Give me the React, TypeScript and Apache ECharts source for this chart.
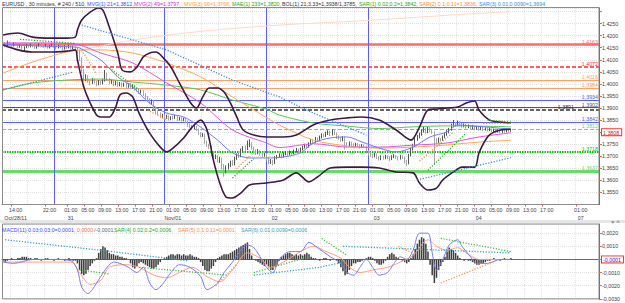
import React, { useEffect, useRef } from "react";
import * as echarts from "echarts";

// ---------------- axis categories / labels ----------------
const SLOT_COUNT = 281;
const slotNames = Array.from({ length: SLOT_COUNT }, (_, i) => String(i));
const timeLabels = [
  "14:00", "18:00", "22:00",
  "01:00", "05:00", "09:00", "13:00", "17:00", "21:00",
  "01:00", "05:00", "09:00", "13:00", "17:00", "21:00",
  "01:00", "05:00", "09:00", "13:00", "17:00", "21:00",
  "01:00", "05:00", "09:00", "13:00", "17:00", "21:00",
  "01:00", "05:00", "09:00", "13:00", "17:00", "21:00",
  "01:00",
];
const timeLabelSlots = [
  4, 12, 20, 30, 38, 46, 54, 62, 70, 78, 86, 94, 102, 110, 118, 126, 134, 142, 150, 158, 166,
  174, 182, 190, 198, 206, 214, 222, 230, 238, 246, 254, 262, 270,
];
const dateLabels = ["Oct/28/11", "31", "Nov/01", "02", "03", "04", "07"];
const dateLabelSlots = [4, 30, 78, 126, 174, 222, 270];
const daySeparatorSlots = ["24", "76", "124", "172"];

// ---------------- price bars [open, close, low, high] ----------------
const bars = [
  [1.4165,1.4168,1.4158,1.4175],[1.4168,1.4160,1.4155,1.4172],[1.4160,1.4172,1.4157,1.4180],[1.4172,1.4165,1.4160,1.4176],[1.4165,1.4158,1.4150,1.4168],
  [1.4158,1.4170,1.4155,1.4174],[1.4170,1.4162,1.4158,1.4173],[1.4162,1.4155,1.4148,1.4165],[1.4155,1.4160,1.4150,1.4163],[1.4160,1.4140,1.4132,1.4162],
  [1.4140,1.4152,1.4136,1.4156],[1.4152,1.4160,1.4148,1.4166],[1.4160,1.4155,1.4150,1.4164],[1.4155,1.4163,1.4152,1.4168],[1.4163,1.4158,1.4153,1.4167],
  [1.4158,1.4150,1.4145,1.4160],[1.4150,1.4157,1.4146,1.4161],[1.4157,1.4165,1.4154,1.4170],[1.4165,1.4160,1.4155,1.4168],[1.4160,1.4155,1.4150,1.4163],
  [1.4155,1.4162,1.4152,1.4166],[1.4162,1.4150,1.4146,1.4164],[1.4150,1.4158,1.4147,1.4161],[1.4158,1.4164,1.4155,1.4168],[1.4164,1.4156,1.4150,1.4166],
  [1.4156,1.4150,1.4143,1.4159],[1.4150,1.4158,1.4147,1.4162],[1.4158,1.4152,1.4148,1.4161],[1.4152,1.4145,1.4140,1.4155],[1.4145,1.4155,1.4142,1.4160],
  [1.4155,1.4150,1.4145,1.4158],[1.4150,1.4157,1.4147,1.4162],[1.4157,1.4148,1.4143,1.4160],[1.4148,1.4152,1.4144,1.4158],[1.4152,1.4145,1.4140,1.4155],
  [1.4145,1.4138,1.4128,1.4150],[1.4138,1.4105,1.4095,1.4142],[1.4105,1.4055,1.4045,1.4110],[1.4055,1.4020,1.4010,1.4062],[1.4020,1.4030,1.4012,1.4040],
  [1.4030,1.4012,1.4005,1.4036],[1.4012,1.4005,1.3995,1.4020],[1.4005,1.4018,1.4000,1.4025],[1.4018,1.4008,1.4002,1.4022],[1.4008,1.3998,1.3990,1.4012],
  [1.3998,1.4010,1.3994,1.4016],[1.4010,1.4002,1.3996,1.4014],[1.4002,1.4015,1.3998,1.4022],[1.4015,1.4040,1.4010,1.4058],[1.4040,1.4020,1.4012,1.4045],
  [1.4020,1.4005,1.3998,1.4025],[1.4005,1.4012,1.4000,1.4018],[1.4012,1.3998,1.3990,1.4015],[1.3998,1.4006,1.3994,1.4012],[1.4006,1.3995,1.3988,1.4010],
  [1.3995,1.4003,1.3990,1.4008],[1.4003,1.3992,1.3985,1.4006],[1.3992,1.4000,1.3988,1.4005],[1.4000,1.3988,1.3980,1.4004],[1.3988,1.3996,1.3984,1.4002],
  [1.3996,1.3985,1.3978,1.4000],[1.3985,1.3992,1.3980,1.3998],[1.3992,1.3980,1.3972,1.3995],[1.3980,1.3975,1.3968,1.3986],[1.3975,1.3965,1.3958,1.3980],
  [1.3965,1.3970,1.3960,1.3976],[1.3970,1.3958,1.3950,1.3974],[1.3958,1.3945,1.3938,1.3962],[1.3945,1.3935,1.3928,1.3950],[1.3935,1.3925,1.3918,1.3940],
  [1.3925,1.3930,1.3915,1.3936],[1.3930,1.3900,1.3890,1.3934],[1.3900,1.3885,1.3875,1.3905],[1.3885,1.3878,1.3870,1.3890],[1.3878,1.3865,1.3858,1.3882],
  [1.3865,1.3870,1.3860,1.3876],[1.3870,1.3860,1.3852,1.3874],[1.3860,1.3868,1.3855,1.3872],[1.3868,1.3855,1.3848,1.3870],[1.3855,1.3862,1.3850,1.3866],
  [1.3862,1.3858,1.3852,1.3868],[1.3858,1.3865,1.3854,1.3872],[1.3865,1.3852,1.3846,1.3868],[1.3852,1.3858,1.3848,1.3864],[1.3858,1.3850,1.3844,1.3862],
  [1.3850,1.3855,1.3845,1.3860],[1.3855,1.3845,1.3838,1.3858],[1.3845,1.3830,1.3822,1.3848],[1.3830,1.3825,1.3818,1.3836],[1.3825,1.3818,1.3810,1.3830],
  [1.3818,1.3822,1.3812,1.3828],[1.3822,1.3812,1.3805,1.3826],[1.3812,1.3795,1.3788,1.3815],[1.3795,1.3785,1.3778,1.3800],[1.3785,1.3790,1.3780,1.3796],
  [1.3790,1.3760,1.3752,1.3794],[1.3760,1.3745,1.3738,1.3765],[1.3745,1.3740,1.3730,1.3752],[1.3740,1.3710,1.3700,1.3745],[1.3710,1.3695,1.3685,1.3715],
  [1.3695,1.3700,1.3688,1.3708],[1.3700,1.3685,1.3675,1.3705],[1.3685,1.3690,1.3672,1.3698],[1.3690,1.3660,1.3645,1.3694],[1.3660,1.3650,1.3615,1.3668],
  [1.3650,1.3655,1.3630,1.3662],[1.3655,1.3665,1.3645,1.3672],[1.3665,1.3675,1.3655,1.3682],[1.3675,1.3668,1.3660,1.3685],[1.3668,1.3690,1.3662,1.3698],
  [1.3690,1.3705,1.3685,1.3712],[1.3705,1.3700,1.3692,1.3715],[1.3700,1.3725,1.3696,1.3732],[1.3725,1.3735,1.3718,1.3742],[1.3735,1.3730,1.3722,1.3745],
  [1.3730,1.3748,1.3726,1.3765],[1.3748,1.3752,1.3738,1.3770],[1.3752,1.3735,1.3728,1.3758],[1.3735,1.3720,1.3712,1.3740],[1.3720,1.3712,1.3705,1.3728],
  [1.3712,1.3722,1.3708,1.3730],[1.3722,1.3710,1.3702,1.3726],[1.3710,1.3702,1.3695,1.3716],[1.3702,1.3708,1.3698,1.3714],[1.3708,1.3690,1.3682,1.3712],
  [1.3690,1.3675,1.3665,1.3695],[1.3675,1.3680,1.3668,1.3688],[1.3680,1.3672,1.3662,1.3686],[1.3672,1.3695,1.3668,1.3700],[1.3695,1.3700,1.3688,1.3706],
  [1.3700,1.3705,1.3694,1.3712],[1.3705,1.3698,1.3690,1.3710],[1.3698,1.3710,1.3694,1.3716],[1.3710,1.3715,1.3704,1.3722],[1.3715,1.3708,1.3700,1.3720],
  [1.3708,1.3718,1.3704,1.3724],[1.3718,1.3712,1.3706,1.3722],[1.3712,1.3722,1.3708,1.3728],[1.3722,1.3728,1.3715,1.3735],[1.3728,1.3720,1.3714,1.3732],
  [1.3720,1.3730,1.3716,1.3736],[1.3730,1.3738,1.3724,1.3744],[1.3738,1.3745,1.3732,1.3752],[1.3745,1.3740,1.3734,1.3750],[1.3740,1.3752,1.3736,1.3758],
  [1.3752,1.3765,1.3748,1.3772],[1.3765,1.3760,1.3752,1.3770],[1.3760,1.3772,1.3756,1.3780],[1.3772,1.3768,1.3760,1.3778],[1.3768,1.3780,1.3764,1.3786],
  [1.3780,1.3788,1.3774,1.3795],[1.3788,1.3785,1.3778,1.3794],[1.3785,1.3795,1.3780,1.3802],[1.3795,1.3800,1.3788,1.3808],[1.3800,1.3790,1.3784,1.3806],
  [1.3790,1.3805,1.3786,1.3812],[1.3805,1.3795,1.3788,1.3810],[1.3795,1.3780,1.3772,1.3798],[1.3780,1.3775,1.3768,1.3786],[1.3775,1.3768,1.3760,1.3780],
  [1.3768,1.3778,1.3762,1.3784],[1.3778,1.3750,1.3728,1.3782],[1.3750,1.3745,1.3738,1.3758],[1.3745,1.3755,1.3740,1.3762],[1.3755,1.3748,1.3742,1.3760],
  [1.3748,1.3742,1.3736,1.3754],[1.3742,1.3750,1.3738,1.3756],[1.3750,1.3745,1.3740,1.3755],[1.3745,1.3738,1.3732,1.3750],[1.3738,1.3745,1.3734,1.3750],
  [1.3745,1.3740,1.3734,1.3748],[1.3740,1.3720,1.3712,1.3744],[1.3720,1.3710,1.3702,1.3725],[1.3710,1.3705,1.3698,1.3716],[1.3705,1.3700,1.3692,1.3710],
  [1.3700,1.3708,1.3695,1.3714],[1.3708,1.3695,1.3688,1.3712],[1.3695,1.3690,1.3682,1.3700],[1.3690,1.3698,1.3684,1.3704],[1.3698,1.3692,1.3686,1.3702],
  [1.3692,1.3700,1.3688,1.3706],[1.3700,1.3695,1.3688,1.3704],[1.3695,1.3688,1.3680,1.3700],[1.3688,1.3698,1.3684,1.3704],[1.3698,1.3702,1.3692,1.3708],
  [1.3702,1.3695,1.3688,1.3706],[1.3695,1.3690,1.3682,1.3700],[1.3690,1.3700,1.3686,1.3706],[1.3700,1.3695,1.3688,1.3704],[1.3695,1.3680,1.3670,1.3698],
  [1.3680,1.3670,1.3660,1.3685],[1.3670,1.3705,1.3666,1.3710],[1.3705,1.3730,1.3700,1.3736],[1.3730,1.3745,1.3724,1.3752],[1.3745,1.3770,1.3740,1.3778],
  [1.3770,1.3780,1.3764,1.3788],[1.3780,1.3790,1.3774,1.3798],[1.3790,1.3805,1.3785,1.3812],[1.3805,1.3812,1.3798,1.3825],[1.3812,1.3800,1.3794,1.3818],
  [1.3800,1.3815,1.3796,1.3822],[1.3815,1.3808,1.3800,1.3820],[1.3808,1.3800,1.3792,1.3812],[1.3800,1.3765,1.3665,1.3804],[1.3765,1.3760,1.3752,1.3775],
  [1.3760,1.3770,1.3755,1.3778],[1.3770,1.3768,1.3760,1.3776],[1.3768,1.3780,1.3764,1.3786],[1.3780,1.3790,1.3775,1.3796],[1.3790,1.3800,1.3785,1.3808],
  [1.3800,1.3810,1.3795,1.3818],[1.3810,1.3828,1.3806,1.3835],[1.3828,1.3835,1.3820,1.3850],[1.3835,1.3830,1.3822,1.3842],[1.3830,1.3838,1.3825,1.3848],
  [1.3838,1.3832,1.3824,1.3846],[1.3832,1.3825,1.3818,1.3838],[1.3825,1.3830,1.3820,1.3836],[1.3830,1.3820,1.3814,1.3834],[1.3820,1.3826,1.3816,1.3832],
  [1.3826,1.3818,1.3812,1.3830],[1.3818,1.3822,1.3812,1.3830],[1.3822,1.3815,1.3808,1.3826],[1.3815,1.3820,1.3810,1.3826],[1.3820,1.3812,1.3806,1.3824],
  [1.3812,1.3818,1.3808,1.3824],[1.3818,1.3810,1.3804,1.3822],[1.3810,1.3815,1.3806,1.3820],[1.3815,1.3808,1.3802,1.3820],[1.3808,1.3812,1.3804,1.3818],
  [1.3812,1.3805,1.3800,1.3816],[1.3805,1.3810,1.3800,1.3815],[1.3810,1.3802,1.3796,1.3814],[1.3802,1.3808,1.3798,1.3812],[1.3808,1.3800,1.3795,1.3812],
  [1.3800,1.3806,1.3796,1.3810],[1.3806,1.3803,1.3798,1.3810],[1.3803,1.3810,1.3800,1.3815],[1.3810,1.3805,1.3800,1.3814],[1.3805,1.3808,1.3802,1.3812],
];

// ---------------- indicator lines [slot, value] ----------------
const bbUpper = [[0,1.4203],[7,1.4211],[14,1.4194],[22,1.4190],[30,1.4190],[34,1.4194],[35,1.4223],[37,1.4265],[41,1.4298],[45,1.4315],[47,1.4306],[50,1.4236],[54,1.4128],[56,1.4058],[60,1.4050],[63,1.4070],[66,1.4112],[69,1.4128],[72,1.4132],[75,1.4112],[79,1.4070],[83,1.4004],[88,1.3925],[91,1.3900],[94,1.3946],[97,1.3983],[101,1.3983],[104,1.3966],[107,1.3921],[110,1.3863],[113,1.3809],[118,1.3788],[124,1.3780],[132,1.3780],[138,1.3788],[146,1.3830],[154,1.3850],[162,1.3859],[169,1.3863],[177,1.3850],[185,1.3809],[192,1.3767],[196,1.3821],[200,1.3892],[204,1.3896],[209,1.3900],[214,1.3904],[218,1.3921],[222,1.3929],[224,1.3892],[229,1.3850],[234,1.3842],[239,1.3838]];
const bbLower = [[0,1.4161],[7,1.4141],[14,1.4132],[22,1.4132],[30,1.4136],[34,1.4141],[35,1.4099],[38,1.3987],[41,1.3921],[44,1.3871],[46,1.3863],[50,1.3863],[53,1.3904],[55,1.3954],[58,1.3962],[61,1.3946],[64,1.3879],[69,1.3796],[74,1.3738],[77,1.3718],[80,1.3734],[85,1.3776],[89,1.3821],[93,1.3850],[96,1.3809],[99,1.3684],[102,1.3589],[105,1.3531],[108,1.3527],[112,1.3548],[116,1.3581],[124,1.3589],[132,1.3602],[138,1.3631],[144,1.3594],[148,1.3614],[154,1.3651],[162,1.3655],[169,1.3655],[177,1.3651],[185,1.3635],[193,1.3631],[196,1.3589],[200,1.3560],[204,1.3568],[207,1.3602],[212,1.3635],[216,1.3655],[222,1.3655],[224,1.3714],[228,1.3780],[231,1.3800],[235,1.3810],[239,1.3812]];
const mvg21 = [[0,1.4165],[17,1.4157],[34,1.4153],[36,1.4149],[46,1.4099],[54,1.4029],[61,1.3987],[69,1.3920],[77,1.3879],[85,1.3863],[93,1.3821],[101,1.3767],[108,1.3714],[116,1.3693],[124,1.3693],[132,1.3697],[140,1.3714],[146,1.3755],[154,1.3776],[162,1.3780],[169,1.3759],[177,1.3734],[185,1.3718],[193,1.3738],[201,1.3780],[209,1.3801],[214,1.3830],[221,1.3825],[228,1.3821],[239,1.3812]];
const mvg49 = [[0,1.4170],[17,1.4170],[34,1.4165],[46,1.4128],[61,1.4087],[77,1.4004],[93,1.3921],[108,1.3809],[124,1.3755],[130,1.3736],[146,1.3752],[162,1.3738],[177,1.3738],[193,1.3746],[209,1.3755],[224,1.3780],[239,1.3797]];
const mvg96 = [[0,1.4045],[14,1.4091],[30,1.4132],[38,1.4141],[46,1.4141],[61,1.4128],[77,1.4087],[93,1.4029],[108,1.3946],[124,1.3860],[130,1.3830],[146,1.3767],[162,1.3743],[177,1.3734],[193,1.3738],[209,1.3747],[224,1.3759],[239,1.3766]];
const mae233 = [[0,1.3975],[14,1.4004],[30,1.4016],[46,1.4020],[61,1.4008],[77,1.3995],[93,1.3975],[108,1.3933],[124,1.3895],[130,1.3871],[146,1.3838],[162,1.3825],[177,1.3815],[193,1.3822],[209,1.3826],[224,1.3825],[239,1.3822]];
const longFaint = [[36,1.4140],[60,1.4180],[90,1.4215],[130,1.4244],[170,1.4262],[210,1.4285],[239,1.4300]];

// SAR dots (segments)
const sar1 = [
  [[8,1.4185],[34,1.4168]],
  [[50,1.4066],[64,1.3975]],
  [[108,1.3610],[118,1.3690]],
  [[200,1.3642],[218,1.3796]],
  [[228,1.3850],[239,1.3842]],
];
const sar2 = [
  [[37,1.4140],[44,1.4040]],
  [[68,1.3892],[77,1.3850]],
  [[109,1.3640],[116,1.3700]],
  [[196,1.3680],[212,1.3800]],
  [[226,1.3836],[239,1.3836]],
];
const sar3 = [
  [[0,1.3975],[33,1.4049]],
  [[37,1.4244],[77,1.4141],[108,1.4016],[130,1.3946],[146,1.3879],[162,1.3821],[171,1.3788]],
  [[195,1.3602],[239,1.3694]],
];

// horizontal levels
const levelValues = [1.4163, 1.4072, 1.4016, 1.3984, 1.3934, 1.3902, 1.3891, 1.3842, 1.3812, 1.3718, 1.3637];

// ---------------- MACD panel ----------------
const macdHist = [
  -0.0001,-0.0002,-0.0001,0,0.0001,0,0,0.0001,0.0001,0.0002,
  0.0002,0.0002,0.0001,0.0001,0,0.0001,0.0001,0,-0.0001,0,
  0.0001,0.0001,0,0,-0.0001,0,0.0001,0,0,-0.0001,
  0,0.0001,0,-0.0001,-0.0001,-0.0003,-0.0008,-0.0011,-0.0012,-0.0011,
  -0.0008,-0.0005,-0.0003,-0.0001,0.0001,0.0005,0.0008,0.0010,0.0009,0.0007,
  0.0005,0.0004,0.0004,0.0003,0.0003,0.0002,0.0002,0.0001,0.0001,0,
  -0.0003,-0.0006,-0.0007,-0.0005,-0.0003,-0.0002,-0.0003,-0.0004,-0.0005,-0.0006,
  -0.0007,-0.0007,-0.0006,-0.0004,-0.0002,0,0.0001,0.0002,0.0003,0.0004,
  0.0004,0.0003,0.0004,0.0004,0.0003,0.0004,0.0003,0.0003,0.0004,0.0003,
  0.0002,0.0002,0.0001,-0.0002,-0.0005,-0.0008,-0.0009,-0.0009,-0.0007,-0.0005,
  -0.0002,0.0001,0.0002,0.0003,0.0004,0.0004,0.0004,0.0005,0.0006,0.0007,
  0.0008,0.0009,0.0010,0.0011,0.0012,0.0013,0.0008,0.0003,0,-0.0001,
  -0.0002,-0.0003,-0.0004,-0.0005,-0.0004,-0.0006,-0.0008,-0.0008,-0.0006,-0.0004,
  -0.0001,0.0002,0.0003,0.0004,0.0005,0.0005,0.0004,0.0003,0.0004,0.0003,
  0.0004,0.0003,0.0004,0.0005,0.0004,0.0002,0.0001,0.0001,0,-0.0001,
  0,0.0001,0.0001,0,-0.0001,0,0,-0.0001,-0.0003,-0.0006,
  -0.0009,-0.0012,-0.0011,-0.0008,-0.0005,-0.0003,-0.0003,-0.0002,-0.0002,-0.0001,
  0,0.0001,0.0002,0.0002,0.0001,-0.0001,-0.0003,-0.0004,-0.0004,-0.0003,
  -0.0001,0.0002,0.0004,0.0005,0.0004,0.0002,0.0001,0,-0.0001,-0.0002,
  -0.0003,-0.0002,0.0001,0.0004,0.0008,0.0012,0.0015,0.0017,0.0016,0.0012,
  0.0006,-0.0004,-0.0012,-0.0018,-0.0014,-0.0008,-0.0005,-0.0002,0.0002,0.0006,
  0.0009,0.0008,0.0007,0.0005,0.0003,0.0001,0,-0.0001,0,-0.0001,
  -0.0001,-0.0002,-0.0003,-0.0004,-0.0004,-0.0003,-0.0003,-0.0002,-0.0001,-0.0001,
  0,0.0001,0,0,-0.0001,0,0.0001,0,0,0.0001,
];
const macdLine = [[0,-0.0002],[5,-0.0003],[14,0],[24,0],[32,-0.0001],[35,-0.0008],[37,-0.0021],[40,-0.0026],[42,-0.0023],[46,-0.0013],[49,-0.0006],[52,-0.0002],[55,-0.0003],[59,-0.0006],[63,-0.0010],[66,-0.0006],[69,-0.0018],[72,-0.0023],[75,-0.0019],[79,-0.0010],[83,-0.0004],[88,-0.0006],[93,-0.0013],[96,-0.0023],[101,-0.0018],[104,-0.0010],[108,-0.0002],[112,0.0007],[115,0.0011],[118,0.0009],[121,0.0002],[124,-0.0006],[127,-0.0010],[130,0],[135,0.0006],[140,0.0006],[144,0.0013],[148,0.0009],[154,0.0002],[159,-0.0003],[162,-0.0010],[165,-0.0012],[168,-0.0006],[171,0],[174,-0.0006],[177,-0.0012],[181,-0.0010],[184,-0.0003],[187,0.0002],[190,0],[193,0.0007],[196,0.0020],[200,0.0020],[202,0.0005],[204,-0.0008],[207,0],[210,0.0011],[214,0.0015],[216,0.0010],[220,0.0002],[223,-0.0003],[228,-0.0003],[234,0],[239,0]];
const signalLine = [[0,-0.0002],[14,-0.0002],[32,-0.0002],[36,-0.0010],[41,-0.0019],[46,-0.0016],[50,-0.0006],[58,-0.0004],[64,-0.0006],[71,-0.0012],[77,-0.0014],[83,-0.0010],[89,-0.0006],[96,-0.0013],[102,-0.0017],[108,-0.0008],[115,0.0005],[121,0.0001],[126,-0.0006],[132,-0.0002],[140,0.0006],[146,0.0010],[152,0.0006],[159,0.0001],[163,-0.0006],[168,-0.0010],[174,-0.0008],[181,-0.0006],[187,-0.0002],[193,0.0003],[200,0.0015],[204,0.0010],[209,0.0007],[214,0.0009],[218,0.0005],[224,0],[234,0],[239,0]];
const sar4 = [
  [[36,-0.0008],[50,-0.0011]],
  [[64,-0.0006],[106,-0.0012]],
  [[118,-0.0010],[144,0.0002]],
  [[150,0.0016],[162,0.0003]],
  [[206,0.0016],[239,0.0006]],
];
const sar5 = [
  [[100,-0.0020],[110,-0.0004]],
  [[186,0.0010],[194,0.0004]],
  [[206,-0.0018],[232,-0.0001]],
];
const sar6 = [
  [[1,0.0015],[46,0.0007],[87,-0.0001]],
  [[118,-0.0012],[149,-0.0006],[160,-0.0002]],
  [[160,0.0010],[239,0.0005]],
];
const macdCurrent = -0.0001;

// ---------------- header texts ----------------
const mainHeader = [
  "EURUSD , 30 minutes, # 240 / 510,",
  "MVG(1) 21=1,3812,",
  "MVG(2) 49=1,3797,",
  "MVG(3) 96=1,3766,",
  "MAE(1) 233=1,3820,",
  "BOL(1) 21;3.33=1,3938/1,3785,",
  "SAR(1) 0.02;0.2=1,3842,",
  "SAR(2) 0.1;0.11=1,3836,",
  "SAR(3) 0.01;0.0090=1,3694",
];
const macdHeader = [
  "MACD(11) 0.03;0.03;0=0,0001,",
  "0,0000",
  "/-0,0001,",
  "SAR(4) 0.02;0.2=0,0006,",
  "SAR(5) 0.1;0.11=0,0001,",
  "SAR(6) 0.01;0.0090=0,0006",
];

// ---------------- styles (kept apart from data) ----------------
const FONT = "Liberation Sans";
const FS = 5.3;
const mainHeaderX = [2, 87, 134, 184, 232, 282, 359, 419, 479];
const mainHeaderColors = ["#333333", "#3B4BFF", "#D030D0", "#FF9A30", "#20A820", "#333333", "#20A820", "#FF8A40", "#2F8FE0"];
const macdHeaderX = [2, 77, 94, 114, 178, 241];
const macdHeaderColors = ["#3B4BFF", "#FF6A50", "#666666", "#20A820", "#FF8A40", "#2F9FC0"];
const levelStyles = [
  { color: "#FF6A6A", width: 2.5, type: "solid", labelShift: 1 },
  { color: "#FF2A2A", width: 1.5, type: [4, 2], labelShift: 1 },
  { color: "#FFA060", width: 1, type: "solid", labelShift: 1 },
  { color: "#FFA060", width: 1, type: "solid", labelShift: 1 },
  { color: "#5A5AFF", width: 1, type: "solid", labelShift: 1 },
  { color: "#555555", width: 1, type: "solid", labelShift: 1 },
  { color: "#333333", width: 1.5, type: [4, 2], labelShift: 25 },
  { color: "#5A5AFF", width: 1, type: "solid", labelShift: 1 },
  { color: "#66D966", width: 1.2, type: [4, 2], labelShift: 1 },
  { color: "#00C800", width: 2, type: [1.5, 1], labelShift: 1 },
  { color: "#6ADB6A", width: 3, type: "solid", labelShift: 1 },
];

const fmt = (v: number) => v.toFixed(4).replace(".", ",");
const labelSlotSet = new Set(timeLabelSlots);
const onLabelSlot = (index: number) => labelSlotSet.has(index);

export default function App() {
  const ref = useRef<HTMLDivElement>(null);

  useEffect(() => {
    if (!ref.current) return;
    const chart = echarts.init(ref.current, undefined, { renderer: "svg" });
    const lastClose = bars[bars.length - 1][1];

    const line = (data: number[][], color: string, width: number, xi = 0, extra: any = {}) => ({
      type: "line",
      xAxisIndex: xi,
      yAxisIndex: xi,
      data,
      symbol: "none",
      showSymbol: false,
      smooth: 0.3,
      silent: true,
      z: 4,
      lineStyle: { color, width },
      ...extra,
    });
    const dots = (segs: number[][][], color: string, xi = 0) =>
      segs.map((s) => ({
        type: "line",
        xAxisIndex: xi,
        yAxisIndex: xi,
        data: s,
        symbol: "none",
        smooth: false,
        silent: true,
        z: 5,
        lineStyle: { color, width: 1.3, type: [1.2, 1.6] },
      }));

    const markData: any[] = levelValues.map((v, k) => ({
      yAxis: v,
      lineStyle: { color: levelStyles[k].color, width: levelStyles[k].width, type: levelStyles[k].type },
      label: {
        show: true,
        formatter: fmt(v),
        position: "insideEndTop",
        distance: [levelStyles[k].labelShift, 0.5],
        color: levelStyles[k].color,
        fontSize: FS,
        fontFamily: FONT,
      },
    }));
    daySeparatorSlots.forEach((s) =>
      markData.push({ xAxis: s, lineStyle: { color: "#5C5CFF", width: 1, type: "solid" }, label: { show: false } })
    );

    const axisLabelCommon = { fontSize: FS, fontFamily: FONT, color: "#404040" };

    const option: any = {
      animation: false,
      backgroundColor: "#ffffff",
      textStyle: { fontFamily: FONT },
      grid: [
        { left: 2, right: 26, top: 8, height: 196.5, containLabel: false, outerBoundsMode: "none" },
        { left: 2, right: 26, top: 224, height: 74.8, containLabel: false, outerBoundsMode: "none" },
      ],
      xAxis: [
        {
          type: "category",
          gridIndex: 0,
          data: slotNames,
          boundaryGap: true,
          axisLine: { show: true, lineStyle: { color: "#6a6a6a" } },
          axisTick: { show: true, alignWithLabel: true, interval: onLabelSlot, length: 2, lineStyle: { color: "#E06040" } },
          axisLabel: {
            ...axisLabelCommon,
            interval: onLabelSlot,
            showMinLabel: true,
            showMaxLabel: true,
            margin: 2,
            lineHeight: 7.5,
            padding: [0, 0, 0, 8],
            formatter: (_v: string, index: number) => {
              const k = timeLabelSlots.indexOf(index);
              if (k < 0) return "";
              const d = dateLabelSlots.indexOf(index);
              return d >= 0 ? timeLabels[k] + "\n" + dateLabels[d] : timeLabels[k];
            },
          },
          splitLine: { show: true, interval: onLabelSlot, lineStyle: { color: "#E2E2E2", type: [1, 1] } },
        },
        {
          type: "category",
          gridIndex: 1,
          data: slotNames,
          boundaryGap: true,
          axisLine: { show: true, lineStyle: { color: "#6a6a6a" } },
          axisTick: { show: false },
          axisLabel: { show: false },
          splitLine: { show: true, interval: onLabelSlot, lineStyle: { color: "#E2E2E2", type: [1, 1] } },
        },
      ],
      yAxis: [
        {
          type: "value",
          gridIndex: 0,
          position: "right",
          min: 1.35,
          max: 1.43147,
          interval: 0.005,
          axisLine: { show: true, lineStyle: { color: "#5a5a5a" } },
          axisTick: { show: true, length: 3, lineStyle: { color: "#E07040" } },
          axisLabel: {
            ...axisLabelCommon,
            margin: 3,
            showMaxLabel: false,
            showMinLabel: false,
            formatter: (v: number) => {
              if (v > 1.4275) return "";
              if (Math.abs(v - 1.38) < 1e-7) return `{cur|${fmt(lastClose)}}`;
              return fmt(v);
            },
            rich: {
              cur: {
                color: "#D02020",
                borderColor: "#FF3030",
                borderWidth: 1,
                padding: [1, 2, 0, 1],
                fontSize: FS,
                fontFamily: FONT,
                backgroundColor: "#ffffff",
              },
            },
          },
          splitLine: { show: true, lineStyle: { color: "#E2E2E2", type: [1, 1] } },
        },
        {
          type: "value",
          gridIndex: 1,
          position: "right",
          min: -0.003,
          max: 0.0027,
          interval: 0.001,
          axisLine: { show: true, lineStyle: { color: "#5a5a5a" } },
          axisTick: { show: true, length: 3, lineStyle: { color: "#E07040" } },
          axisLabel: {
            ...axisLabelCommon,
            margin: 3,
            showMaxLabel: false,
            formatter: (v: number) => {
              if (v > 0.0025) return "";
              if (Math.abs(v) < 1e-9) return `{cur|${fmt(macdCurrent)}}`;
              return fmt(v);
            },
            rich: {
              cur: {
                color: "#2020FF",
                borderColor: "#FF3030",
                borderWidth: 1,
                padding: [1, 2, 0, 1],
                fontSize: FS,
                fontFamily: FONT,
                backgroundColor: "#ffffff",
              },
            },
          },
          splitLine: { show: true, lineStyle: { color: "#E2E2E2", type: [1, 1] } },
        },
      ],
      series: [
        {
          type: "candlestick",
          xAxisIndex: 0,
          yAxisIndex: 0,
          data: bars,
          barWidth: 1,
          silent: true,
          z: 3,
          itemStyle: {
            color: "#555555",
            color0: "#A6A6A6",
            borderColor: "#555555",
            borderColor0: "#A6A6A6",
            borderWidth: 1,
          },
          markLine: {
            silent: true,
            symbol: ["none", "none"],
            precision: 4,
            z: 1,
            data: markData,
          },
        },
        line(longFaint, "#FFD8C4", 1),
        line(mae233, "#55C855", 1),
        line(mvg96, "#FFA850", 1),
        line(mvg49, "#DD55DD", 1),
        line(mvg21, "#6E7BF5", 1),
        line(bbUpper, "#3D1B40", 1.6),
        line(bbLower, "#3D1B40", 1.6),
        ...dots(sar1, "#22B022"),
        ...dots(sar2, "#FF8C40"),
        ...dots(sar3, "#2F8FE0"),
        {
          type: "bar",
          xAxisIndex: 1,
          yAxisIndex: 1,
          data: macdHist,
          barWidth: "72%",
          silent: true,
          z: 2,
          itemStyle: { color: "#3E3E3E" },
        },
        line(signalLine, "#FF9C80", 1, 1),
        line(macdLine, "#7A7AF0", 1, 1),
        ...dots(sar4, "#3CBF3C", 1),
        ...dots(sar5, "#FF8C40", 1),
        ...dots(sar6, "#2F9FC0", 1),
      ],
      graphic: [
        {
          type: "rect",
          silent: true,
          z: 0,
          shape: { x: 0, y: 220, width: 625, height: 3 },
          style: { fill: "#E6E6E6" },
        },
        {
          type: "rect",
          silent: true,
          z: 100,
          shape: { x: 2.5, y: 7.5, width: 596.5, height: 197 },
          style: { fill: "none", stroke: "#8c8c8c", lineWidth: 1 },
        },
        {
          type: "rect",
          silent: true,
          z: 100,
          shape: { x: 2.5, y: 224, width: 596.5, height: 74.8 },
          style: { fill: "none", stroke: "#8c8c8c", lineWidth: 1 },
        },
        {
          type: "text",
          silent: true,
          z: 100,
          x: 611,
          y: 221.5,
          style: { text: "× ˄", fill: "#555555", fontSize: 6, fontFamily: FONT, verticalAlign: "middle" },
        },
        ...mainHeader.map((t, k) => ({
          type: "text",
          silent: true,
          z: 100,
          x: mainHeaderX[k],
          y: 4,
          style: { text: t, fill: mainHeaderColors[k], fontSize: FS, fontFamily: FONT, verticalAlign: "middle" },
        })),
        ...macdHeader.map((t, k) => ({
          type: "text",
          silent: true,
          z: 100,
          x: macdHeaderX[k],
          y: 230,
          style: { text: t, fill: macdHeaderColors[k], fontSize: FS, fontFamily: FONT, verticalAlign: "middle" },
        })),
      ],
    };

    chart.setOption(option);
    return () => chart.dispose();
  }, []);

  return (
    <div
      ref={ref}
      style={{ position: "absolute", left: 0, top: 0, width: 625, height: 303, background: "#ffffff" }}
    />
  );
}
